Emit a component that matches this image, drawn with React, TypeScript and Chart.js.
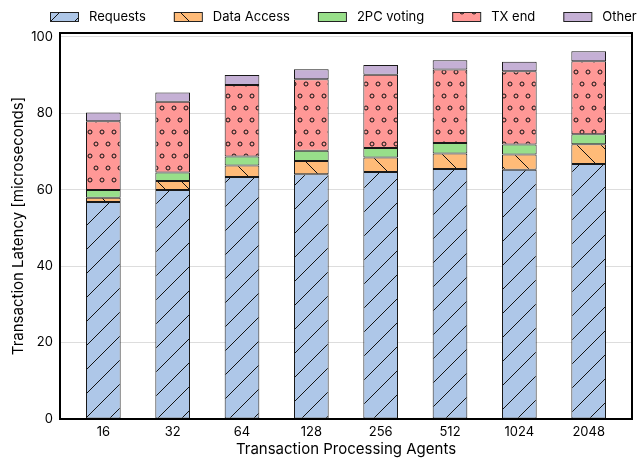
import { useEffect, useRef } from 'react';
import { Chart, registerables } from 'chart.js';

Chart.register(...registerables);

const categories = ['16', '32', '64', '128', '256', '512', '1024', '2048'];
const requests = [56.8, 59.9, 63.3, 64.05, 64.6, 65.4, 65.2, 66.7];
const dataAccess = [1.1, 2.4, 3.0, 3.45, 3.8, 4.1, 4.0, 5.2];
const pcVoting = [2.0, 2.2, 2.4, 2.7, 2.5, 2.7, 2.6, 2.6];
const txEnd = [18.0, 18.5, 18.7, 18.7, 19.15, 19.25, 19.2, 19.1];
const other = [2.3, 2.4, 2.6, 2.6, 2.55, 2.45, 2.5, 2.6];
const seriesNames = ['Requests', 'Data Access', '2PC voting', 'TX end', 'Other'];
const yTicks = [0, 20, 40, 60, 80, 100];

const FONT = 'Inter';

function makePattern(ctx: CanvasRenderingContext2D, bg: string, kind: string): CanvasPattern | string {
  if (kind === 'none') return bg;
  const c = document.createElement('canvas');
  const w = kind === 'dots' ? 12 : 24;
  const h = 24;
  c.width = w;
  c.height = h;
  const x = c.getContext('2d')!;
  x.fillStyle = bg;
  x.fillRect(0, 0, w, h);
  x.strokeStyle = '#111';
  x.lineWidth = 1;
  x.beginPath();
  if (kind === '/') {
    x.moveTo(-2, 26); x.lineTo(26, -2);
    x.moveTo(-2, 2); x.lineTo(2, -2);
    x.moveTo(22, 26); x.lineTo(26, 22);
  } else if (kind === '\\') {
    x.moveTo(-2, -2); x.lineTo(26, 26);
    x.moveTo(22, -2); x.lineTo(26, 2);
    x.moveTo(-2, 22); x.lineTo(2, 26);
  }
  x.stroke();
  if (kind === 'dots') {
    const pts = [[0, 0], [12, 0], [0, 24], [12, 24], [6, 12]];
    for (const [px, py] of pts) {
      x.beginPath();
      x.arc(px, py, 2, 0, Math.PI * 2);
      x.stroke();
    }
  }
  return ctx.createPattern(c, 'repeat') || bg;
}

const framePlugin = {
  id: 'frameAndLegend',
  afterDraw(chart: any) {
    const { ctx, chartArea } = chart;
    ctx.save();
    ctx.strokeStyle = '#000';
    ctx.lineWidth = 2;
    ctx.strokeRect(chartArea.left, chartArea.top, chartArea.right - chartArea.left, chartArea.bottom - chartArea.top);
    // legend
    ctx.font = `13px ${FONT}`;
    ctx.textBaseline = 'middle';
    ctx.textAlign = 'left';
    let x = 50;
    const y = 12;
    const bw = 28;
    const bh = 9;
    chart.data.datasets.forEach((ds: any) => {
      ctx.fillStyle = ds.backgroundColor;
      ctx.fillRect(x, y, bw, bh);
      ctx.strokeStyle = '#222';
      ctx.lineWidth = 1;
      ctx.strokeRect(x + 0.5, y + 0.5, bw, bh);
      ctx.fillStyle = '#000';
      ctx.fillText(ds.label, x + bw + 11, y + bh / 2 + 1);
      x += bw + 11 + ctx.measureText(ds.label).width + 28;
    });
    ctx.restore();
  },
};

export default function App() {
  const ref = useRef<HTMLCanvasElement>(null);
  useEffect(() => {
    document.body.style.margin = '0';
    const canvas = ref.current!;
    const ctx = canvas.getContext('2d')!;
    const series = [requests, dataAccess, pcVoting, txEnd, other];
    const colors = ['#aec7e8', '#ffbb78', '#98df8a', '#ff9896', '#c5b0d5'];
    const kinds = ['/', '\\', 'none', 'dots', 'none'];
    const chart = new Chart(canvas, {
      type: 'bar',
      data: {
        datasets: series.map((vals, si) => ({
          label: seriesNames[si],
          data: vals.map((v, i) => ({ x: i, y: v })),
          backgroundColor: makePattern(ctx, colors[si], kinds[si]) as any,
          borderColor: 'rgba(0,0,0,0.9)',
          borderWidth: 1,
          borderSkipped: false,
          categoryPercentage: 1,
          barPercentage: 0.5,
        })),
      },
      options: {
        responsive: false,
        animation: false,
        devicePixelRatio: 1,
        layout: { padding: { left: 0, right: 10, top: 33, bottom: 0 } },
        plugins: {
          legend: { display: false },
          tooltip: { enabled: false },
        },
        scales: {
          x: {
            type: 'linear',
            offset: false,
            min: -0.625,
            max: 7.625,
            stacked: true,
            grid: { display: false, drawTicks: false, offset: false },
            border: { display: false },
            afterBuildTicks: (s: any) => {
              s.ticks = categories.map((_, i) => ({ value: i }));
            },
            afterFit: (s: any) => {
              s.height = 41;
            },
            ticks: {
              autoSkip: false,
              maxRotation: 0,
              padding: 5,
              color: '#000',
              font: { family: FONT, size: 13 },
              callback: (v: any) => categories[v as number] ?? '',
            },
            title: {
              display: true,
              text: 'Transaction Processing Agents',
              color: '#000',
              font: { family: FONT, size: 15 },
              padding: { top: 0, bottom: 2 },
            },
          },
          y: {
            min: 0,
            max: 101,
            stacked: true,
            grid: { color: '#dddddd', drawTicks: false, lineWidth: 1 },
            border: { display: false },
            afterBuildTicks: (s: any) => {
              s.ticks = yTicks.map((v) => ({ value: v }));
            },
            afterFit: (s: any) => {
              s.width = 60;
            },
            ticks: {
              padding: 7,
              color: '#000',
              font: { family: FONT, size: 13 },
            },
            title: {
              display: true,
              text: 'Transaction Latency [microseconds]',
              color: '#000',
              font: { family: FONT, size: 15 },
              padding: { top: 9, bottom: 0 },
            },
          },
        },
      },
      plugins: [framePlugin],
    });
    return () => chart.destroy();
  }, []);
  return (
    <div style={{ width: 642, height: 460, position: 'relative', background: '#fff' }}>
      <canvas ref={ref} width={642} height={460} />
    </div>
  );
}
